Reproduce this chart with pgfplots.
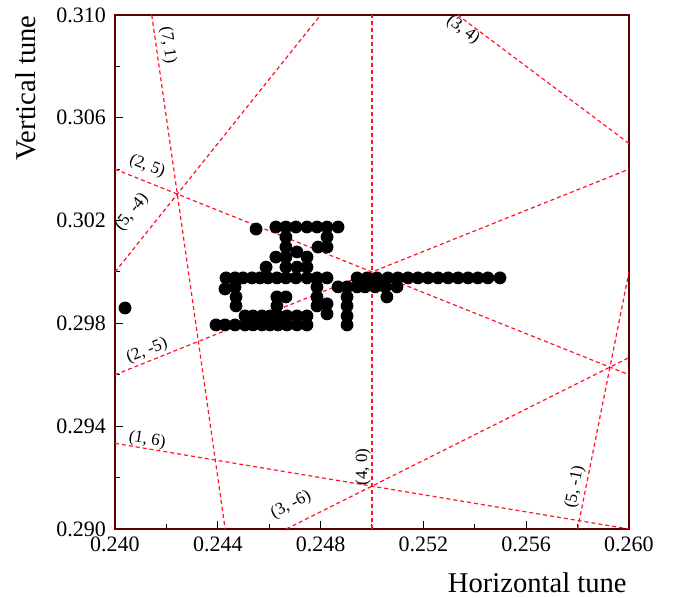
\documentclass[border=0pt]{standalone}
\usepackage{pgfplots}
\pgfplotsset{compat=1.18}
\usepackage{fontspec}
\setmainfont{Liberation Serif}
\definecolor{frame}{RGB}{90,0,0}
\definecolor{resred}{RGB}{255,20,40}
\begin{document}
\begin{tikzpicture}
\begin{axis}[
  scale only axis, width=257pt, height=257pt,
  xmin=0.240, xmax=0.260, ymin=0.290, ymax=0.310,
  xtick={0.240,0.244,0.248,0.252,0.256,0.260},
  ytick={0.290,0.294,0.298,0.302,0.306,0.310},
  minor tick num=1,
  tick pos=left, tick align=inside,
  major tick length=4pt, minor tick length=2.5pt,
  tick style={black, line width=0.5pt},
  axis line style={draw=frame, line width=1pt},
  /pgf/number format/assume math mode=true,
  /pgf/number format/.cd, fixed, fixed zerofill, precision=3, /pgfplots/.cd,
  scaled ticks=false,
  tick label style={font=\fontsize{11}{13}\selectfont},
  xticklabel style={yshift=-0.5pt},
  yticklabel style={xshift=-1pt},
  xlabel={Horizontal tune}, ylabel={Vertical tune},
  label style={font=\fontsize{14.3}{16}\selectfont, inner sep=0pt},
  xlabel style={at={(axis description cs:0.9961,-0.1245)}, anchor=base east},
  ylabel style={at={(axis description cs:-0.1556,1)}, anchor=base east},
  clip=true,
]
% resonance lines
\pgfplotsset{res/.style={draw=resred, dash pattern=on 2pt off 1.5pt, line width=0.6pt}}
\addplot[res] coordinates {(0.25,0.29) (0.25,0.31)};
\addplot[res] coordinates {(0.241429,0.31) (0.244286,0.29)};
\addplot[res] coordinates {(0.258,0.29) (0.26,0.30)};
\addplot[res] coordinates {(0.24,0.30) (0.248,0.31)};
\addplot[res] coordinates {(0.24,0.304) (0.26,0.296)};
\addplot[res] coordinates {(0.24,0.296) (0.26,0.304)};
\addplot[res] coordinates {(0.24,0.293333) (0.26,0.29)};
\addplot[res] coordinates {(0.246667,0.29) (0.26,0.296667)};
\addplot[res] coordinates {(0.253333,0.31) (0.26,0.305)};
% measured tunes
\addplot[only marks, mark=*, mark size=3pt, black] coordinates {
(0.24039,0.29860)
(0.24549,0.30167)
(0.24626,0.30175) (0.24665,0.30175) (0.24704,0.30175) (0.24747,0.30175) (0.24786,0.30175) (0.24825,0.30175) (0.24868,0.30175)
(0.24665,0.30136) (0.24825,0.30136)
(0.24665,0.30097) (0.24790,0.30097) (0.24825,0.30097)
(0.24626,0.30058) (0.24665,0.30058) (0.24708,0.30078) (0.24747,0.30058)
(0.24588,0.30019) (0.24665,0.30019) (0.24708,0.30019) (0.24747,0.30019)
(0.24432,0.29977) (0.24467,0.29977) (0.24498,0.29977) (0.24533,0.29977) (0.24564,0.29977) (0.24595,0.29977) (0.24630,0.29977) (0.24665,0.29977) (0.24704,0.29977) (0.24747,0.29977) (0.24786,0.29977) (0.24825,0.29977)
(0.24942,0.29977) (0.24981,0.29977) (0.25019,0.29977) (0.25062,0.29977) (0.25101,0.29977) (0.25140,0.29977) (0.25179,0.29977) (0.25218,0.29977) (0.25257,0.29977) (0.25296,0.29977) (0.25335,0.29977) (0.25374,0.29977) (0.25412,0.29977) (0.25451,0.29977) (0.25498,0.29977)
(0.24428,0.29934) (0.24467,0.29942) (0.24786,0.29942) (0.24868,0.29942) (0.24903,0.29942) (0.24942,0.29942) (0.24973,0.29942) (0.25012,0.29942) (0.25051,0.29942) (0.25097,0.29942)
(0.24471,0.29903) (0.24630,0.29903) (0.24665,0.29903) (0.24786,0.29903) (0.24903,0.29903) (0.25058,0.29903)
(0.24471,0.29868) (0.24630,0.29868) (0.24786,0.29868) (0.24825,0.29876) (0.24903,0.29868)
(0.24506,0.29829) (0.24537,0.29829) (0.24572,0.29829) (0.24603,0.29829) (0.24634,0.29829) (0.24669,0.29829) (0.24708,0.29829) (0.24747,0.29829) (0.24825,0.29837) (0.24903,0.29829)
(0.24393,0.29794) (0.24428,0.29794) (0.24467,0.29794) (0.24506,0.29794) (0.24537,0.29794) (0.24572,0.29794) (0.24603,0.29794) (0.24634,0.29794) (0.24669,0.29794) (0.24708,0.29794) (0.24747,0.29794) (0.24903,0.29794)
};
% labels
\tikzset{rl/.style={font=\fontsize{8.5}{10}\selectfont, inner sep=0pt}}
\node[rl, rotate=-82] at (axis cs:0.24206,0.30883) {(7, 1)};
\node[rl, rotate=-37] at (axis cs:0.25354,0.30942) {(3, 4)};
\node[rl, rotate=-22] at (axis cs:0.24125,0.30412) {(2, 5)};
\node[rl, rotate=51] at (axis cs:0.24066,0.30233) {(5, -4)};
\node[rl, rotate=22] at (axis cs:0.24125,0.29693) {(2, -5)};
\node[rl, rotate=-9.5] at (axis cs:0.24125,0.29346) {(1, 6)};
\node[rl, rotate=27] at (axis cs:0.24685,0.29093) {(3, -6)};
\node[rl, rotate=90] at (axis cs:0.24965,0.29241) {(4, 0)};
\node[rl, rotate=79] at (axis cs:0.25790,0.29163) {(5, -1)};
\end{axis}
\pgfresetboundingbox
\path[use as bounding box] (-57.5pt,-34.5pt) rectangle (280.5pt,264.5pt);
\end{tikzpicture}
\end{document}
